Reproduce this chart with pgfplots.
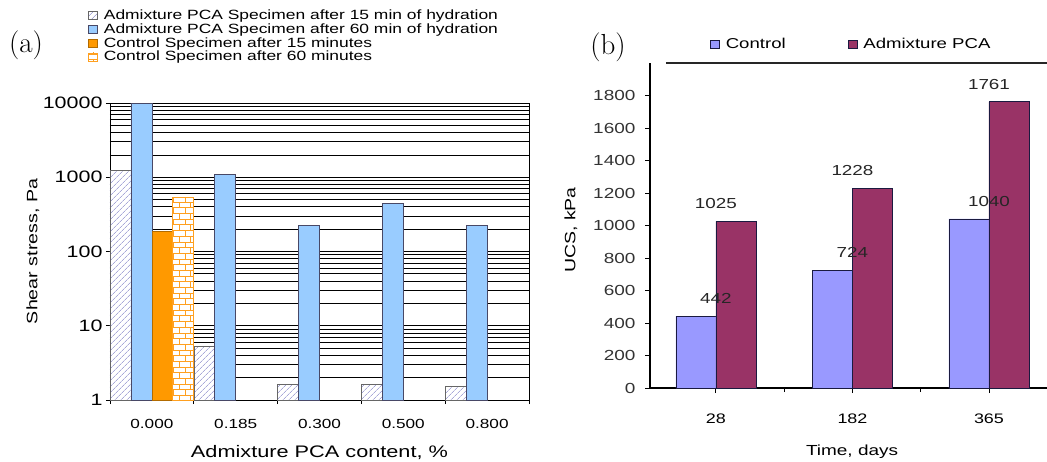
\documentclass[border=0pt]{standalone}
\usepackage{fontspec}
\newfontfamily\sans{Liberation Sans}[FakeStretch=1.3]
\usepackage{pgfplots}
\pgfplotsset{compat=1.18}
\usetikzlibrary{patterns,patterns.meta}
\definecolor{hatchc}{HTML}{A8A8D8}
\definecolor{lblue}{HTML}{99CCFF}
\definecolor{orng}{HTML}{FF9900}
\definecolor{brickc}{HTML}{FFA020}
\definecolor{ctrl}{HTML}{9999FF}
\definecolor{pca}{HTML}{993366}
\definecolor{edge}{HTML}{1A1A40}
\newcommand\fs[1]{\sans\fontsize{#1}{#1}\selectfont}
\newcommand\yl[1]{\hbox{\fs{16.5}#1}}
\pgfplotsset{sq legend/.style={legend image code/.code={\draw[##1,line width=0.6pt] (0pt,-4pt) rectangle (9pt,4pt); \path (13pt,0pt);}}}
\begin{document}
\begin{tikzpicture}[font=\fs{14}]
\useasboundingbox (0,0) rectangle (1047pt,461pt);
\node at (26pt,416pt) {\rmfamily\fontsize{29}{30}\selectfont (a)};
\node at (608pt,414pt) {\rmfamily\fontsize{29}{30}\selectfont (b)};

\begin{axis}[
  at={(110pt,61pt)}, anchor=south west, scale only axis,
  width=419pt, height=297pt,
  ymode=log, ymin=1, ymax=10000,
  xmin=-0.5, xmax=4.5,
  axis line style={black, line width=0.9pt},
  ytick={1,10,100,1000,10000}, yticklabels={\yl{1},\yl{10},\yl{100},\yl{1000},\yl{10000}},
  xtick={-0.5,0.5,1.5,2.5,3.5,4.5}, xticklabels={},
  extra x ticks={0,1,2,3,4},
  extra x tick labels={0.000,0.185,0.300,0.500,0.800},
  extra x tick style={major tick length=0pt, xticklabel style={font=\fs{13.2}, yshift=-16pt}},
  xtick pos=bottom, ytick pos=left,
  tick align=outside, major tick length=4pt, minor tick length=0pt,
  tick style={black, line width=0.9pt},
  ymajorgrids, yminorgrids,
  major grid style={black, line width=0.8pt}, minor grid style={black, line width=0.8pt},
  xlabel={Admixture PCA content, \%}, ylabel={Shear stress, Pa},
  xlabel style={at={(axis description cs:0.5,-0.178)}, anchor=center, font=\fs{16.7}},
  ylabel style={at={(axis description cs:-0.184,0.5)}, anchor=center, font=\fs{15.1}},
  legend style={at={(rel axis cs:-0.0525,1.32)}, anchor=north west, draw=none, fill=none,
    font=\fs{13.4}, inner sep=0pt, row sep=-1.5pt, cells={anchor=west}},
]
\addplot[ybar, sq legend, bar width=0.25, bar shift=-0.375, fill=white, draw=black!60, line width=0.6pt,
  postaction={pattern={Lines[angle=45,distance=4pt,line width=0.7pt]}, pattern color=hatchc}]
  coordinates {(0,1250) (1,5.3) (2,1.64) (3,1.64) (4,1.54)};
\addplot[ybar, sq legend, bar width=0.25, bar shift=-0.125, fill=lblue, draw=edge!80, line width=0.8pt]
  coordinates {(0,10000) (1,1100) (2,223) (3,446) (4,227)};
\addplot[ybar, sq legend, bar width=0.25, bar shift=0.125, fill=orng, draw=orng!70!black, line width=0.6pt]
  coordinates {(0,185)};
\addplot[ybar, sq legend, bar width=0.25, bar shift=0.375, fill=white, draw=brickc, line width=0.8pt,
  postaction={pattern=bricks, pattern color=brickc}]
  coordinates {(0,537)};
\legend{Admixture PCA Specimen after 15 min of hydration,
        Admixture PCA Specimen after 60 min of hydration,
        Control Specimen after 15 minutes,
        Control Specimen after 60 minutes}
\end{axis}

\begin{axis}[
  at={(650pt,73pt)}, anchor=south west, scale only axis,
  width=397pt, height=325pt,
  xmin=-0.483, xmax=2.425, ymin=0, ymax=2000,
  axis x line*=bottom, axis y line*=left,
  axis line style={black, line width=1.1pt},
  /pgf/number format/assume math mode=true,
  /pgf/number format/1000 sep={},
  ytick={0,200,...,1800},
  yticklabel style={font=\fs{14.6}, text=black!80, xshift=-6pt},
  xtick={0,1,2}, xticklabels={28,182,365},
  minor xtick={-0.5,0.5,1.5,2.5},
  xticklabel style={font=\fs{13.8}, yshift=-17pt},
  tick align=outside, major tick length=5pt, minor tick length=4pt,
  tick style={black, line width=0.9pt},
  xlabel={Time, days}, ylabel={UCS, kPa},
  xlabel style={at={(axis description cs:0.509,-0.195)}, anchor=center, font=\fs{14.6}},
  ylabel style={at={(axis description cs:-0.199,0.486)}, anchor=center, font=\fs{15}},
  legend columns=2,
  legend style={at={(rel axis cs:0.151,1.058)}, anchor=west, draw=none, fill=none,
    font=\fs{14.3}, inner sep=0pt, /tikz/every even column/.append style={column sep=60pt}},
  nodes near coords style={font=\fs{14.5}, anchor=south, yshift=9pt, text=black!85},
]
\addplot[ybar, sq legend, bar width=0.293, bar shift=-0.1465, fill=ctrl, draw=edge, line width=0.7pt,
  nodes near coords] coordinates {(0,442) (1,724) (2,1040)};
\addplot[ybar, sq legend, bar width=0.293, bar shift=0.1465, fill=pca, draw=edge, line width=0.7pt,
  nodes near coords] coordinates {(0,1025) (1,1228) (2,1761)};
\legend{Control, Admixture PCA}
\draw[line width=1.2pt, black!85] (rel axis cs:0.04,1) -- (rel axis cs:1,1);
\end{axis}
\end{tikzpicture}
\end{document}
